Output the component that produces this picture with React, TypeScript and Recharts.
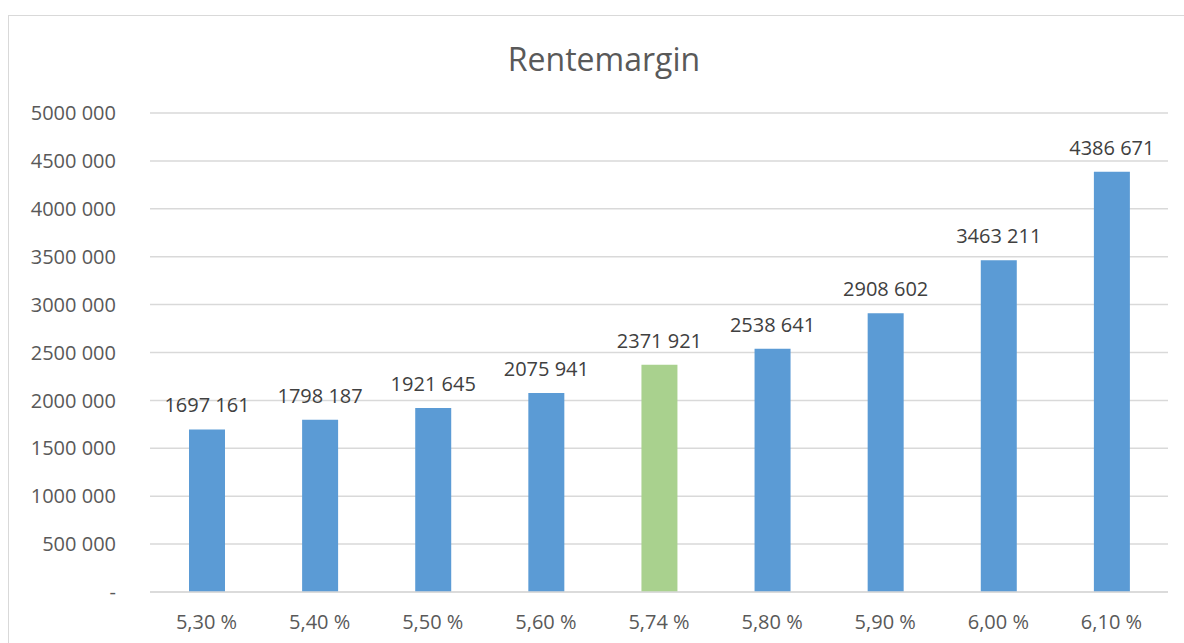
import { BarChart, Bar, XAxis, YAxis, CartesianGrid, LabelList, Cell } from "recharts";

const categories = ["5,30 %", "5,40 %", "5,50 %", "5,60 %", "5,74 %", "5,80 %", "5,90 %", "6,00 %", "6,10 %"];
const values = [1697161, 1798187, 1921645, 2075941, 2371921, 2538641, 2908602, 3463211, 4386671];
const highlight = "5,74 %";
const yTicks = [0, 500000, 1000000, 1500000, 2000000, 2500000, 3000000, 3500000, 4000000, 4500000, 5000000];

const data = categories.map((c, i) => ({ rate: c, value: values[i] }));

const fmt = (v: number) => {
  if (v === 0) return "-";
  const hi = Math.floor(v / 1000);
  const lo = String(v % 1000).padStart(3, "0");
  return `${hi} ${lo}`;
};

const font = "Open Sans, sans-serif";

// plain text label so recharts doesn't wrap it to the bar width
const ValueLabel = (props: any) => {
  const { x, y, width, value } = props;
  return (
    <text x={x + width / 2} y={y - 17} textAnchor="middle" fill="#404040" fontSize={20} fontFamily={font}>
      {fmt(Number(value))}
    </text>
  );
};

export default function App() {
  return (
    <div style={{ position: "absolute", left: 0, top: 0, width: 1184, height: 643, background: "#fff", overflow: "hidden" }}>
      <div style={{ position: "absolute", left: 8, top: 15, width: 1200, height: 700, border: "1px solid #d9d9d9" }} />
      <div style={{ position: "absolute", left: 0, top: 37, width: 1208, textAlign: "center", fontFamily: font, fontSize: 32, color: "#595959" }}>
        Rentemargin
      </div>
      <div style={{ position: "absolute", left: 0, top: 0 }}>
        <BarChart width={1184} height={643} data={data} margin={{ top: 113, right: 16, left: 0, bottom: 21 }}>
          <CartesianGrid vertical={false} stroke="#d9d9d9" strokeWidth={1.5} />
          <XAxis
            dataKey="rate"
            height={30}
            axisLine={{ stroke: "#d9d9d9", strokeWidth: 1.5 }}
            tickLine={false}
            tickMargin={17}
            tick={{ fill: "#595959", fontSize: 20, fontFamily: font }}
          />
          <YAxis
            width={150}
            domain={[0, 5000000]}
            ticks={yTicks}
            tickFormatter={fmt}
            axisLine={false}
            tickLine={false}
            tickMargin={28}
            tick={{ fill: "#595959", fontSize: 20, fontFamily: font }}
          />
          <Bar dataKey="value" barSize={36} fill="#5b9bd5" isAnimationActive={false}>
            {data.map((d) => (
              <Cell key={d.rate} fill={d.rate === highlight ? "#a9d18e" : "#5b9bd5"} />
            ))}
            <LabelList dataKey="value" content={ValueLabel} />
          </Bar>
        </BarChart>
      </div>
    </div>
  );
}
